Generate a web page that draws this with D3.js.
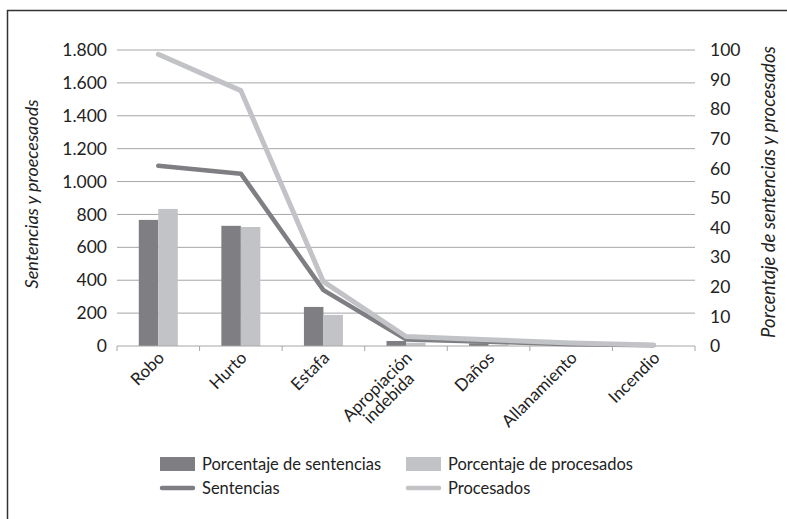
<!DOCTYPE html>
<html>
<head>
<meta charset="utf-8">
<script src="https://cdn.jsdelivr.net/npm/d3@7"></script>
<style>
  body { margin: 0; background: #fff; }
  svg { font-family: Lato, "Open Sans", sans-serif; }
</style>
</head>
<body>
<svg id="chart" width="787" height="519"></svg>
<script>
// categories and series
const categories = ["Robo", "Hurto", "Estafa", "Apropiación indebida", "Daños", "Allanamiento", "Incendio"];
const pctSentencias = [42.6, 40.6, 13.2, 1.7, 0.9, 0.2, 0.1];
const pctProcesados = [46.3, 40.2, 10.5, 1.1, 0.3, 0.1, 0.05];
const sentencias = [1096, 1048, 340, 40, 26, 10, 4];
const procesados = [1774, 1553, 391, 58, 38, 18, 6];
const leftTicks = [0, 200, 400, 600, 800, 1000, 1200, 1400, 1600, 1800];
const rightTicks = [0, 10, 20, 30, 40, 50, 60, 70, 80, 90, 100];

const darkGray = "#7f7f83";
const lightGray = "#c2c3c6";

const svg = d3.select("#chart");

// outer frame (runs off the picture at right and bottom)
svg.append("rect")
    .attr("x", 7.5).attr("y", 10.5)
    .attr("width", 800).attr("height", 520)
    .attr("fill", "none")
    .attr("stroke", "#333")
    .attr("stroke-width", 1.5);

const plotLeft = 117, plotRight = 695, plotTop = 50, plotBottom = 346;

const x = d3.scaleBand().domain(categories).range([plotLeft, plotRight]);
const yL = d3.scaleLinear().domain([0, 1800]).range([plotBottom, plotTop]);
const yR = d3.scaleLinear().domain([0, 100]).range([plotBottom, plotTop]);

const esFormat = d3.formatLocale({ decimal: ",", thousands: ".", grouping: [3], currency: ["", "€"] }).format(",");

// gridlines
svg.append("g")
  .selectAll("line")
  .data(leftTicks.slice(1))
  .join("line")
    .attr("x1", plotLeft).attr("x2", plotRight)
    .attr("y1", d => yL(d)).attr("y2", d => yL(d))
    .attr("stroke", "#a6a6a6")
    .attr("stroke-width", 1);

// left axis
const gL = svg.append("g")
    .attr("transform", "translate(" + plotLeft + ",0)")
    .call(d3.axisLeft(yL).tickValues(leftTicks).tickFormat(esFormat).tickSize(0).tickPadding(10));
gL.select(".domain").remove();
gL.selectAll("text").attr("font-size", 17.5).attr("fill", "#222").attr("font-family", "Lato, sans-serif");

// right axis
const gR = svg.append("g")
    .attr("transform", "translate(" + plotRight + ",0)")
    .call(d3.axisRight(yR).tickValues(rightTicks).tickSize(0).tickPadding(15));
gR.select(".domain").remove();
gR.selectAll("text").attr("font-size", 17.5).attr("fill", "#222").attr("font-family", "Lato, sans-serif");

// bars (right axis, percentages)
const inner = d3.scaleBand().domain(["s", "p"]).range([0, 39]);
const barOffset = (x.bandwidth() - 39) / 2;
const barData = categories.map((c, i) => ({ c: c, s: pctSentencias[i], p: pctProcesados[i] }));

const groups = svg.append("g").selectAll("g")
  .data(barData)
  .join("g")
    .attr("transform", d => "translate(" + (x(d.c) + barOffset) + ",0)");

groups.append("rect")
    .attr("x", inner("s")).attr("width", inner.bandwidth())
    .attr("y", d => yR(d.s)).attr("height", d => plotBottom - yR(d.s))
    .attr("fill", darkGray);
groups.append("rect")
    .attr("x", inner("p")).attr("width", inner.bandwidth())
    .attr("y", d => yR(d.p)).attr("height", d => plotBottom - yR(d.p))
    .attr("fill", lightGray);

// bottom axis
const gB = svg.append("g")
    .attr("transform", "translate(0," + plotBottom + ")");
gB.append("line")
    .attr("x1", plotLeft).attr("x2", plotRight)
    .attr("stroke", "#a6a6a6");
gB.selectAll(".tk")
  .data(categories.concat(["end"]))
  .join("line")
    .attr("class", "tk")
    .attr("x1", (d, i) => plotLeft + i * x.step())
    .attr("x2", (d, i) => plotLeft + i * x.step())
    .attr("y1", 0).attr("y2", 5)
    .attr("stroke", "#a6a6a6");

// category labels rotated
const labels = gB.selectAll(".lbl")
  .data(categories)
  .join("text")
    .attr("class", "lbl")
    .attr("font-size", 17)
    .attr("fill", "#222")
    .attr("text-anchor", "end")
    .attr("transform", d => "translate(" + (x(d) + x.bandwidth() / 2 + 7) + ",13) rotate(-45)");

labels.each(function (d) {
  const t = d3.select(this);
  if (d === "Apropiación indebida") {
    const a = t.append("tspan").attr("x", 0).attr("y", 0).text("Apropiación");
    const b = t.append("tspan").attr("x", 0).attr("y", 0).attr("dy", "0.95em").text("indebida");
    const wa = a.node().getComputedTextLength();
    const wb = b.node().getComputedTextLength();
    b.attr("x", -(wa - wb) / 2);
  } else {
    t.text(d);
  }
});

// lines (left axis, counts)
const line = d3.line()
    .x((d, i) => x(categories[i]) + x.bandwidth() / 2)
    .y(d => yL(d));

svg.append("path")
    .datum(sentencias)
    .attr("d", line)
    .attr("fill", "none")
    .attr("stroke", darkGray)
    .attr("stroke-width", 4.5)
    .attr("stroke-linecap", "round")
    .attr("stroke-linejoin", "round");

svg.append("path")
    .datum(procesados)
    .attr("d", line)
    .attr("fill", "none")
    .attr("stroke", lightGray)
    .attr("stroke-width", 5)
    .attr("stroke-linecap", "round")
    .attr("stroke-linejoin", "round");

// axis titles
svg.append("text")
    .attr("transform", "translate(38,194) rotate(-90)")
    .attr("text-anchor", "middle")
    .attr("font-size", 18)
    .attr("font-style", "italic")
    .attr("fill", "#222")
    .text("Sentencias y proecesaods");

svg.append("text")
    .attr("transform", "translate(775,192) rotate(-90)")
    .attr("text-anchor", "middle")
    .attr("font-size", 18.5)
    .attr("font-style", "italic")
    .attr("fill", "#222")
    .text("Porcentaje de sentencias y procesados");

// legend
const legendItems = [
  { label: "Porcentaje de sentencias", type: "bar", color: darkGray, x: 160, y: 464 },
  { label: "Porcentaje de procesados", type: "bar", color: lightGray, x: 406, y: 464 },
  { label: "Sentencias", type: "line", color: darkGray, x: 160, y: 488 },
  { label: "Procesados", type: "line", color: lightGray, x: 406, y: 488 }
];

const lg = svg.append("g").selectAll("g")
  .data(legendItems)
  .join("g")
    .attr("transform", d => "translate(" + d.x + "," + d.y + ")");

lg.filter(d => d.type === "bar").append("rect")
    .attr("x", 0).attr("y", -7).attr("width", 35).attr("height", 14)
    .attr("fill", d => d.color);
lg.filter(d => d.type === "line").append("line")
    .attr("x1", 2).attr("x2", 33)
    .attr("stroke", d => d.color)
    .attr("stroke-width", 4.5)
    .attr("stroke-linecap", "round");
lg.append("text")
    .attr("x", 42).attr("dy", "0.35em")
    .attr("font-size", 16.5)
    .attr("fill", "#222")
    .text(d => d.label);
</script>
</body>
</html>
